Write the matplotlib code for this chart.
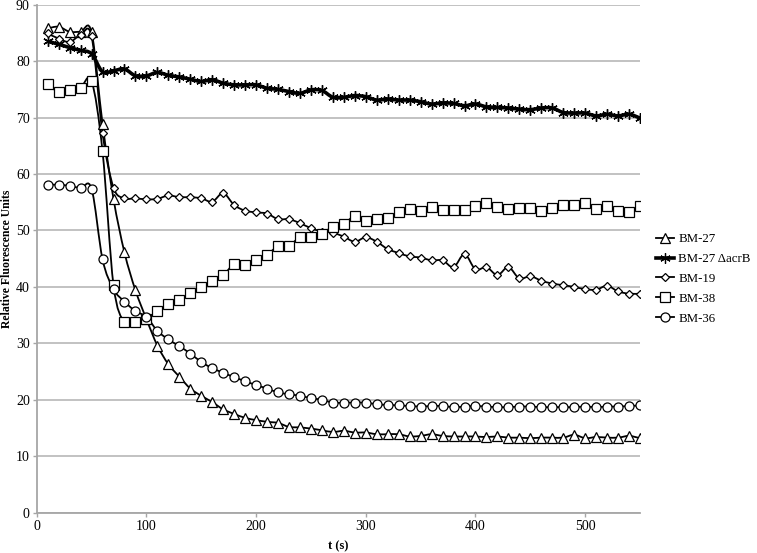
import numpy as np
import matplotlib
matplotlib.use("Agg")
import matplotlib.pyplot as plt
from matplotlib.path import Path
from matplotlib.patches import PathPatch
from matplotlib.lines import Line2D

# ── DATA ──────────────────────────────────────────────────────────────────────

t = np.arange(10, 551, 10)

bm27 = [85.8, 86.1, 85.2, 85.2, 85.1, 68.9, 55.6, 46.1, 39.4, 34.3,
        29.6, 26.3, 24.1, 22.0, 20.7, 19.6, 18.3, 17.5, 16.8, 16.4,
        16.1, 15.9, 15.2, 15.1, 14.9, 14.6, 14.3, 14.5, 14.2, 14.2,
        13.9, 13.9, 13.9, 13.5, 13.6, 13.9, 13.6, 13.5, 13.5, 13.5,
        13.4, 13.5, 13.3, 13.3, 13.2, 13.3, 13.3, 13.3, 13.8, 13.2,
        13.4, 13.3, 13.3, 13.6, 13.2]

bm27_acrb = [83.5, 83.0, 82.4, 81.9, 81.3, 78.1, 78.3, 78.6, 77.4, 77.4,
             78.0, 77.5, 77.2, 76.8, 76.4, 76.7, 76.1, 75.8, 75.8, 75.8,
             75.2, 75.0, 74.6, 74.3, 74.9, 74.8, 73.6, 73.6, 73.9, 73.7,
             73.1, 73.3, 73.1, 73.1, 72.8, 72.4, 72.6, 72.5, 72.1, 72.4,
             71.9, 71.8, 71.7, 71.5, 71.4, 71.7, 71.7, 70.9, 70.8, 70.8,
             70.3, 70.6, 70.3, 70.6, 69.9]

bm19 = [84.9, 84.0, 83.4, 84.6, 84.4, 67.2, 57.6, 55.7, 55.7, 55.5,
        55.6, 56.2, 55.9, 55.9, 55.7, 55.1, 56.6, 54.5, 53.5, 53.2,
        53.0, 52.0, 52.0, 51.3, 50.4, 49.8, 49.6, 48.9, 48.0, 48.8,
        48.0, 46.7, 46.0, 45.4, 45.2, 44.7, 44.7, 43.5, 45.8, 43.1,
        43.5, 42.1, 43.5, 41.5, 41.9, 41.1, 40.6, 40.3, 40.0, 39.6,
        39.5, 40.2, 39.2, 38.8, 38.8]

bm38 = [76.0, 74.5, 74.9, 75.3, 76.5, 64.0, 40.3, 33.7, 33.7, 34.3,
        35.7, 36.9, 37.7, 38.9, 39.9, 41.0, 42.1, 44.0, 43.9, 44.8,
        45.7, 47.2, 47.3, 48.8, 48.8, 49.4, 50.7, 51.1, 52.6, 51.7,
        52.0, 52.2, 53.2, 53.8, 53.5, 54.1, 53.6, 53.7, 53.7, 54.3,
        54.8, 54.2, 53.8, 54.0, 53.9, 53.5, 53.9, 54.5, 54.5, 54.8,
        53.8, 54.3, 53.5, 53.3, 54.3]

bm36 = [58.1, 58.1, 57.9, 57.5, 57.4, 44.9, 39.6, 37.4, 35.7, 34.7,
        32.2, 30.7, 29.5, 28.2, 26.7, 25.6, 24.8, 24.0, 23.3, 22.6,
        22.0, 21.3, 21.0, 20.7, 20.3, 20.0, 19.5, 19.5, 19.5, 19.5,
        19.2, 19.1, 19.0, 18.9, 18.8, 18.9, 18.9, 18.7, 18.8, 18.9,
        18.8, 18.7, 18.7, 18.8, 18.8, 18.7, 18.7, 18.7, 18.7, 18.8,
        18.7, 18.8, 18.8, 18.9, 19.0]

labels = ["BM-27", "BM-27 \u0394acrB", "BM-19", "BM-38", "BM-36"]
series = [bm27, bm27_acrb, bm19, bm38, bm36]
markers = ["^", (6, 2, 0), "D", "s", "o"]
msizes = [6.5, 7.5, 4.5, 6.5, 6.5]
lwidths = [1.3, 2.6, 1.3, 1.3, 1.3]

plt.rcParams['font.family'] = ['Liberation Serif', 'DejaVu Serif']

# ── HELPERS ───────────────────────────────────────────────────────────────────

def smooth_path(x, y):
    # Excel-style smoothed line: Catmull-Rom segments as cubic Beziers
    p = np.column_stack([x, y]).astype(float)
    n = len(p)
    verts = [p[0]]
    codes = [Path.MOVETO]
    for i in range(n - 1):
        p0 = p[i - 1] if i > 0 else p[i]
        p3 = p[i + 2] if i + 2 < n else p[i + 1]
        c1 = p[i] + (p[i + 1] - p0) / 6
        c2 = p[i + 1] - (p3 - p[i]) / 6
        verts += [c1, c2, p[i + 1]]
        codes += [Path.CURVE4] * 3
    return Path(verts, codes)

# ── PLOT ──────────────────────────────────────────────────────────────────────

fig = plt.figure(figsize=(7.57, 5.53), dpi=100)
ax = fig.add_axes([0.0485, 0.0729, 0.797, 0.9186])

handles = []
for y, lab, m, ms, lw in zip(series, labels, markers, msizes, lwidths):
    ax.add_patch(PathPatch(smooth_path(t, y), facecolor='none',
                           edgecolor='black', linewidth=lw, zorder=3))
    ax.plot(t, y, linestyle='none', marker=m, markersize=ms,
            markerfacecolor='white', markeredgecolor='black',
            markeredgewidth=0.9 if m != (6, 2, 0) else 1.0, zorder=4)
    handles.append(Line2D([], [], color='black', linewidth=lw, marker=m,
                          markersize=ms, markerfacecolor='white',
                          markeredgecolor='black', markeredgewidth=0.9))

ax.set_xlim(0, 550)
ax.set_ylim(0, 90)
ax.set_xticks(range(0, 501, 100))
ax.set_yticks(range(0, 91, 10))
ax.yaxis.grid(True, color='#bdbdbd', linewidth=1.3)
ax.set_axisbelow(True)
for side in ['top', 'right']:
    ax.spines[side].set_visible(False)
for side in ['left', 'bottom']:
    ax.spines[side].set_color('#a6a6a6')
    ax.spines[side].set_linewidth(1.3)
ax.tick_params(axis='both', colors='#a6a6a6', labelcolor='black',
               labelsize=10, length=3, width=1, pad=2)

ax.set_xlabel("t (s)", fontsize=9, fontweight='bold')
ax.xaxis.set_label_coords(0.5, -0.054)
ax.set_ylabel("Relative Fluorescence Units", fontsize=8.5, fontweight='bold',
              va='center')
ax.yaxis.set_label_coords(-0.049, 0.5)

fig.legend(handles, labels, loc='center left', bbox_to_anchor=(0.863, 0.4955),
           frameon=False, fontsize=9.3, handlelength=1.4, handletextpad=0.35,
           labelspacing=0.6, borderpad=0.2, borderaxespad=0)

plt.savefig("out.png", dpi=100)
